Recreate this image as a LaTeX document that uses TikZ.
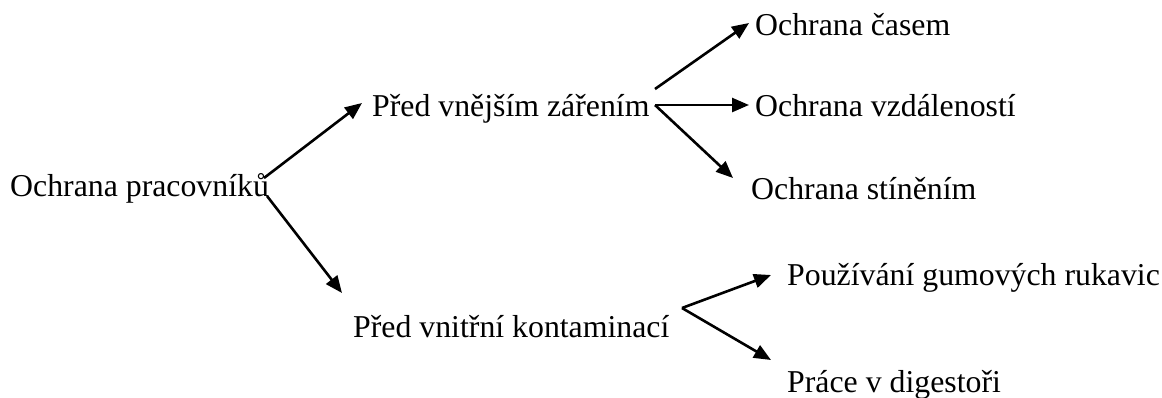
\documentclass[tikz,border=0pt]{standalone}
\usepackage{fontspec}
\setmainfont{Liberation Serif}
\usetikzlibrary{arrows.meta}
\begin{document}
\begin{tikzpicture}[x=1pt,y=1pt,
  lbl/.style={anchor=base west,inner sep=0pt,font=\fontsize{31.8}{38}\selectfont},
  conn/.style={line width=2.6pt,-{Triangle[length=17pt,width=14pt]}}]
\useasboundingbox (0,0) rectangle (1162,-397);
% labels
\node[lbl] (root) at (10,-196) {Ochrana pracovníků};
\node[lbl] (ext) at (372,-116) {Před vnějším zářením};
\node[lbl] (int) at (353,-337) {Před vnitřní kontaminací};
\node[lbl] (cas) at (755,-35) {Ochrana časem};
\node[lbl] (vzd) at (755,-116) {Ochrana vzdáleností};
\node[lbl] (sti) at (751,-199) {Ochrana stíněním};
\node[lbl] (ruk) at (787,-285) {Používání gumových rukavic};
\node[lbl] (dig) at (787,-392) {Práce v digestoři};
% connector points
\coordinate (r1) at (264,-178);
\coordinate (r2) at (267,-196);
\coordinate (e1) at (362,-103);
\coordinate (i1) at (342,-293);
\coordinate (x1) at (655,-89);
\coordinate (x2) at (655,-105);
\coordinate (c1) at (749,-23);
\coordinate (v1) at (749,-105);
\coordinate (s1) at (733,-178);
\coordinate (k1) at (682,-308);
\coordinate (u1) at (771,-275);
\coordinate (d1) at (771,-360);
% connectors
\draw[conn] (r1) -- (e1);
\draw[conn] (r2) -- (i1);
\draw[conn] (x1) -- (c1);
\draw[conn] (x2) -- (v1);
\draw[conn] (x2) -- (s1);
\draw[conn] (k1) -- (u1);
\draw[conn] (k1) -- (d1);
\end{tikzpicture}
\end{document}
